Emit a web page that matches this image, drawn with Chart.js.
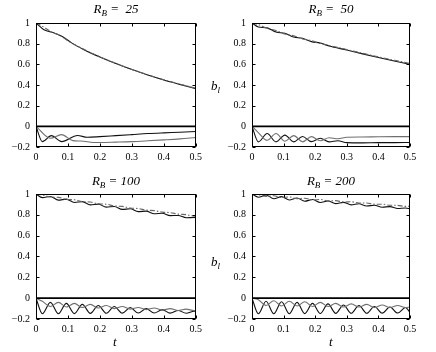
<!DOCTYPE html>
<html>
<head>
<meta charset="utf-8">
<script src="https://cdn.jsdelivr.net/npm/chart.js@4/dist/chart.umd.min.js"></script>
<style>
  html, body { margin: 0; padding: 0; background: #fff; }
  #wrap { position: relative; width: 436px; height: 352px; background: #fff; overflow: hidden; }
  canvas { position: absolute; }
  .lbl { position: absolute; font-family: "Liberation Serif", "Times New Roman", serif; font-style: italic; color: #000; white-space: nowrap; }
  .ttl { font-size: 13px; line-height: 16px; text-align: center; }
  .ttl sub, .ax sub { font-size: 9px; vertical-align: -3px; line-height: 0; }
  .ax { font-size: 13px; line-height: 16px; }
</style>
</head>
<body>
<div id="wrap">
  <canvas id="c25"></canvas>
  <canvas id="c50"></canvas>
  <canvas id="c100"></canvas>
  <canvas id="c200"></canvas>
  <div class="lbl ttl" style="left:36px;top:1px;width:160px;">R<sub>B</sub> =&nbsp; 25</div>
  <div class="lbl ttl" style="left:252px;top:1px;width:158px;">R<sub>B</sub> =&nbsp; 50</div>
  <div class="lbl ttl" style="left:36px;top:173px;width:160px;">R<sub>B</sub> = 100</div>
  <div class="lbl ttl" style="left:252px;top:173px;width:158px;">R<sub>B</sub> = 200</div>
  <div class="lbl ax" style="left:211px;top:78px;">b<sub>l</sub></div>
  <div class="lbl ax" style="left:211px;top:254px;">b<sub>l</sub></div>
  <div class="lbl ax" style="left:113px;top:334px;">t</div>
  <div class="lbl ax" style="left:329px;top:334px;">t</div>
</div>
<script>
// ---------- tick labels ----------
const xTickValues = [0, 0.1, 0.2, 0.3, 0.4, 0.5];
const xTickLabels = ['0', '0.1', '0.2', '0.3', '0.4', '0.5'];
const yTickValues = [-0.2, 0, 0.2, 0.4, 0.6, 0.8, 1];
const yTickLabels = ['\u22120.2', '0', '0.2', '0.4', '0.6', '0.8', '1'];

// ---------- zero line ----------
const zeroT = [0, 0.5];
const zeroB = [0, 0];

// ---------- R_B = 25 ----------
const t25S = [0, .025, .055, .085, .11, .15, .2, .25, .3, .35, .4, .45, .5];
const b25S = [1, .935, .905, .865, .81, .742, .671, .607, .549, .497, .449, .406, .364];
const t25D = [0, .025, .05, .075, .1, .15, .2, .25, .3, .35, .4, .45, .5];
const b25D = [1, .96, .91, .88, .828, .745, .673, .609, .551, .499, .451, .409, .369];
const t25A = [0, .02, .048, .08, .13, .16, .2, .25, .3, .35, .4, .45, .5];
const b25A = [0, -.148, -.09, -.148, -.088, -.106, -.1, -.09, -.08, -.07, -.063, -.057, -.05];
const t25B = [0, .045, .08, .115, .14, .18, .2, .25, .3, .35, .4, .45, .5];
const b25B = [0, -.115, -.08, -.138, -.142, -.156, -.157, -.153, -.148, -.14, -.131, -.121, -.108];

// ---------- R_B = 50 ----------
const t50U = [0, .02, .048, .076, .104, .132, .16, .188, .216, .244, .3, .35, .4, .45, .5];
const b50S = [1, .962, .953, .912, .901, .864, .852, .820, .806, .777, .738, .701, .666, .632, .599];
const b50D = [1, .985, .948, .927, .893, .876, .846, .829, .801, .783, .743, .707, .672, .64, .609];
const t50L = [0, .02, .048, .076, .104, .132, .16, .188, .216, .244, .272, .3, .35, .4, .45, .5];
const b50A = [0, -.15, -.07, -.15, -.085, -.15, -.098, -.148, -.115, -.15, -.14, -.158, -.16, -.158, -.158, -.156];
const b50B = [0, -.06, -.135, -.07, -.145, -.09, -.15, -.10, -.14, -.11, -.12, -.105, -.103, -.101, -.10, -.10];

// ---------- R_B = 100 ----------
const t100 = [0, .02, .045, .07, .095, .12, .145, .17, .195, .22, .245, .27, .295, .32, .345, .37, .395, .42, .445, .47, .495, .5];
const b100S = [1, .965, .976, .941, .951, .918, .927, .896, .903, .874, .880, .852, .858, .831, .836, .811, .815, .792, .794, .772, .774, .773];
const b100D = [1, .991, .971, .968, .948, .945, .927, .923, .905, .902, .885, .881, .865, .860, .845, .840, .826, .821, .807, .802, .788, .791];
const b100A = [0, -.15, -.04, -.15, -.05, -.148, -.06, -.146, -.07, -.145, -.08, -.144, -.09, -.143, -.10, -.143, -.11, -.144, -.118, -.145, -.125, -.126];
const b100B = [0, -.03, -.08, -.04, -.085, -.05, -.09, -.06, -.095, -.07, -.10, -.08, -.105, -.09, -.11, -.095, -.115, -.10, -.118, -.105, -.12, -.119];

// ---------- R_B = 200 ----------
const t200 = [0, .02, .0445, .069, .0935, .118, .1425, .167, .1915, .216, .2405, .265, .2895, .314, .3385, .363, .3875, .412, .4365, .461, .4855, .5];
const b200S = [1, .969, .99, .955, .975, .943, .961, .931, .947, .919, .933, .908, .92, .896, .906, .885, .892, .873, .879, .861, .866, .858];
const b200D = [1, .995, .977, .983, .966, .971, .955, .959, .944, .947, .934, .936, .923, .925, .913, .913, .902, .902, .892, .891, .881, .882];
const b200A = [0, -.15, -.03, -.15, -.035, -.15, -.04, -.148, -.05, -.147, -.055, -.146, -.065, -.145, -.07, -.145, -.08, -.144, -.085, -.143, -.09, -.135];
const b200B = [0, -.015, -.07, -.025, -.075, -.03, -.075, -.035, -.08, -.04, -.08, -.05, -.085, -.055, -.085, -.06, -.09, -.065, -.09, -.07, -.09, -.085];

function pts(ts, bs) { return ts.map((t, i) => ({ x: t, y: bs[i] })); }

const FONT = { family: '"Liberation Serif", "Times New Roman", serif', size: 10 };

const boxPlugin = {
  id: 'boxTicks',
  afterDatasetsDraw(chart) {
    const { ctx, chartArea: a, scales } = chart;
    const L = Math.round(a.left) + 0.5, R = Math.round(a.right) - 0.5;
    const T = Math.round(a.top) + 0.5, B = Math.round(a.bottom) - 0.5;
    ctx.save();
    ctx.strokeStyle = '#000';
    ctx.lineWidth = 1;
    ctx.beginPath();
    scales.x.ticks.forEach(tk => {
      const px = Math.round(scales.x.getPixelForValue(tk.value)) + 0.5;
      ctx.moveTo(px, B); ctx.lineTo(px, B - 3);
      ctx.moveTo(px, T); ctx.lineTo(px, T + 3);
    });
    scales.y.ticks.forEach(tk => {
      const py = Math.round(scales.y.getPixelForValue(tk.value)) + 0.5;
      ctx.moveTo(L, py); ctx.lineTo(L + 3, py);
      ctx.moveTo(R, py); ctx.lineTo(R - 3, py);
    });
    ctx.stroke();
    ctx.strokeRect(L, T, R - L, B - T);
    ctx.restore();
  }
};

function makeChart(cfg) {
  const cv = document.getElementById(cfg.id);
  cv.width = cfg.w; cv.height = cfg.h;
  cv.style.left = cfg.left + 'px'; cv.style.top = cfg.top + 'px';
  cv.style.width = cfg.w + 'px'; cv.style.height = cfg.h + 'px';
  const line = (data, color, width, dash) => ({
    data, borderColor: color, borderWidth: width, borderDash: dash || [],
    pointRadius: 0, fill: false, cubicInterpolationMode: 'monotone'
  });
  new Chart(cv, {
    type: 'line',
    data: {
      datasets: [
        line(pts(zeroT, zeroB), '#000', 1.6),
        line(cfg.lowB, '#6f6f6f', 1.1),
        line(cfg.lowA, '#111', 1.1),
        line(cfg.upD, '#666', 1.1, [5, 2, 1.5, 2]),
        line(cfg.upS, '#111', 1.1)
      ]
    },
    options: {
      responsive: false, animation: false, devicePixelRatio: 1,
      layout: { padding: cfg.pad },
      plugins: { legend: { display: false }, tooltip: { enabled: false } },
      scales: {
        x: {
          type: 'linear', min: 0, max: 0.5,
          afterBuildTicks: s => { s.ticks = xTickValues.map(v => ({ value: v })); },
          afterFit: s => { s.height = cfg.xh; },
          ticks: { callback: (v, i) => xTickLabels[i], font: FONT, color: '#000', padding: 4, maxRotation: 0, autoSkip: false },
          grid: { display: false, drawTicks: false }, border: { display: false }
        },
        y: {
          type: 'linear', min: -0.2, max: 1,
          afterBuildTicks: s => { s.ticks = yTickValues.map(v => ({ value: v })); },
          afterFit: s => { s.width = cfg.yw; },
          ticks: { callback: (v, i) => yTickLabels[i], font: FONT, color: '#000', padding: 6, autoSkip: false },
          grid: { display: false, drawTicks: false }, border: { display: false }
        }
      }
    },
    plugins: [boxPlugin]
  });
}

makeChart({ id: 'c25', left: 0, top: 0, w: 206, h: 170, yw: 36, xh: 23, pad: { left: 0, right: 10, top: 23, bottom: 0 },
  upS: pts(t25S, b25S), upD: pts(t25D, b25D), lowA: pts(t25A, b25A), lowB: pts(t25B, b25B) });
makeChart({ id: 'c50', left: 210, top: 0, w: 226, h: 170, yw: 42, xh: 23, pad: { left: 0, right: 26, top: 23, bottom: 0 },
  upS: pts(t50U, b50S), upD: pts(t50U, b50D), lowA: pts(t50L, b50A), lowB: pts(t50L, b50B) });
makeChart({ id: 'c100', left: 0, top: 176, w: 206, h: 160, yw: 36, xh: 17, pad: { left: 0, right: 10, top: 18, bottom: 0 },
  upS: pts(t100, b100S), upD: pts(t100, b100D), lowA: pts(t100, b100A), lowB: pts(t100, b100B) });
makeChart({ id: 'c200', left: 210, top: 176, w: 226, h: 160, yw: 42, xh: 17, pad: { left: 0, right: 26, top: 18, bottom: 0 },
  upS: pts(t200, b200S), upD: pts(t200, b200D), lowA: pts(t200, b200A), lowB: pts(t200, b200B) });
</script>
</body>
</html>
